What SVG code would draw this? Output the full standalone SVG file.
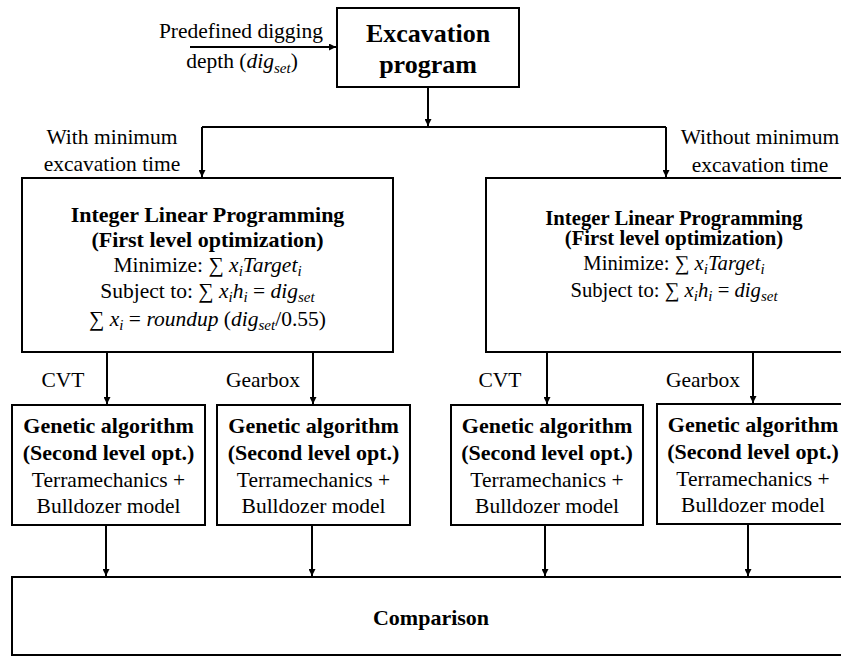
<svg xmlns="http://www.w3.org/2000/svg" width="841" height="656" viewBox="0 0 841 656">
<defs>
<marker id="ah" viewBox="0 0 8 8" refX="8" refY="4" markerWidth="3.5" markerHeight="3.5" markerUnits="strokeWidth" orient="auto">
<path d="M0,0 L8,4 L0,8 Z" fill="#000"/>
</marker>
</defs>

<g id="connectors" fill="none" stroke="#000" stroke-width="2">
<path d="M190,47 H336" marker-end="url(#ah)"/>
<path d="M428,87 V126" marker-end="url(#ah)"/>
<path d="M202,127 H666"/>
<path d="M202,127 V177" marker-end="url(#ah)"/>
<path d="M666,127 V177" marker-end="url(#ah)"/>
<path d="M107,352 V404" marker-end="url(#ah)"/>
<path d="M313,352 V404" marker-end="url(#ah)"/>
<path d="M547,352 V404" marker-end="url(#ah)"/>
<path d="M753,352 V403" marker-end="url(#ah)"/>
<path d="M106,525 V576" marker-end="url(#ah)"/>
<path d="M312,525 V576" marker-end="url(#ah)"/>
<path d="M545,525 V576" marker-end="url(#ah)"/>
<path d="M748,524 V576" marker-end="url(#ah)"/>
</g>

<g id="labels">
<text x="241" y="38" font-family="Liberation Serif" font-size="21.5" text-anchor="middle">Predefined digging</text>
<text x="242" y="68" font-family="Liberation Serif" font-size="21.5" text-anchor="middle">depth (<tspan font-style="italic">dig</tspan><tspan font-size="15" font-style="italic" dy="5">set</tspan><tspan dy="-5">)</tspan></text>
<text x="112" y="144" font-family="Liberation Serif" font-size="21.5" text-anchor="middle">With minimum</text>
<text x="112" y="171" font-family="Liberation Serif" font-size="21.5" text-anchor="middle">excavation time</text>
<text x="760" y="144" font-family="Liberation Serif" font-size="21.5" text-anchor="middle">Without minimum</text>
<text x="760" y="172" font-family="Liberation Serif" font-size="21.5" text-anchor="middle">excavation time</text>
<text x="63" y="387" font-family="Liberation Serif" font-size="21.5" text-anchor="middle">CVT</text>
<text x="263" y="387" font-family="Liberation Serif" font-size="21.5" text-anchor="middle">Gearbox</text>
<text x="500" y="387" font-family="Liberation Serif" font-size="21.5" text-anchor="middle">CVT</text>
<text x="703" y="387" font-family="Liberation Serif" font-size="21.5" text-anchor="middle">Gearbox</text>
</g>

<g id="excavation">
<rect x="337" y="8" width="182" height="79" fill="#fff" stroke="#000" stroke-width="2"/>
<text x="428" y="42" font-family="Liberation Serif" font-weight="bold" font-size="26" text-anchor="middle">Excavation</text>
<text x="428" y="73" font-family="Liberation Serif" font-weight="bold" font-size="26" text-anchor="middle">program</text>
</g>

<g id="ilp-left">
<rect x="22" y="178" width="371" height="174" fill="#fff" stroke="#000" stroke-width="2"/>
<text x="207.5" y="222" font-family="Liberation Serif" font-weight="bold" font-size="22" text-anchor="middle">Integer Linear Programming</text>
<text x="207.5" y="247" font-family="Liberation Serif" font-weight="bold" font-size="22" text-anchor="middle">(First level optimization)</text>
<text x="207.5" y="272" font-family="Liberation Serif" font-size="21.5" text-anchor="middle">Minimize: ∑<tspan font-style="italic"> x</tspan><tspan font-size="15" font-style="italic" dy="4">i</tspan><tspan font-style="italic" dy="-4">Target</tspan><tspan font-size="15" font-style="italic" dy="4">i</tspan></text>
<text x="207.5" y="298" font-family="Liberation Serif" font-size="21.5" text-anchor="middle">Subject to: ∑<tspan font-style="italic"> x</tspan><tspan font-size="15" font-style="italic" dy="4">i</tspan><tspan font-style="italic" dy="-4">h</tspan><tspan font-size="15" font-style="italic" dy="4">i</tspan><tspan dy="-4"> = </tspan><tspan font-style="italic">dig</tspan><tspan font-size="15" font-style="italic" dy="4">set</tspan></text>
<text x="207.5" y="326" font-family="Liberation Serif" font-size="21.5" text-anchor="middle">∑<tspan font-style="italic"> x</tspan><tspan font-size="15" font-style="italic" dy="4">i</tspan><tspan dy="-4"> = </tspan><tspan font-style="italic">roundup</tspan><tspan> (</tspan><tspan font-style="italic">dig</tspan><tspan font-size="15" font-style="italic" dy="4">set</tspan><tspan dy="-4">/0.55)</tspan></text>
</g>

<g id="ilp-right">
<rect x="486" y="178" width="380" height="174" fill="#fff" stroke="#000" stroke-width="2"/>
<text x="674" y="225" font-family="Liberation Serif" font-weight="bold" font-size="20.7" text-anchor="middle">Integer Linear Programming</text>
<text x="674" y="245" font-family="Liberation Serif" font-weight="bold" font-size="20.7" text-anchor="middle">(First level optimization)</text>
<text x="674" y="270" font-family="Liberation Serif" font-size="20.7" text-anchor="middle">Minimize: ∑<tspan font-style="italic"> x</tspan><tspan font-size="15" font-style="italic" dy="4">i</tspan><tspan font-style="italic" dy="-4">Target</tspan><tspan font-size="15" font-style="italic" dy="4">i</tspan></text>
<text x="674" y="297" font-family="Liberation Serif" font-size="20.7" text-anchor="middle">Subject to: ∑<tspan font-style="italic"> x</tspan><tspan font-size="15" font-style="italic" dy="4">i</tspan><tspan font-style="italic" dy="-4">h</tspan><tspan font-size="15" font-style="italic" dy="4">i</tspan><tspan dy="-4"> = </tspan><tspan font-style="italic">dig</tspan><tspan font-size="15" font-style="italic" dy="4">set</tspan></text>
</g>

<g id="ga1">
<rect x="12" y="405" width="193" height="120" fill="#fff" stroke="#000" stroke-width="2"/>
<text x="108.5" y="433" font-family="Liberation Serif" font-weight="bold" font-size="22" text-anchor="middle">Genetic algorithm</text>
<text x="108.5" y="460" font-family="Liberation Serif" font-weight="bold" font-size="22" text-anchor="middle">(Second level opt.)</text>
<text x="108.5" y="487" font-family="Liberation Serif" font-size="21.5" text-anchor="middle">Terramechanics +</text>
<text x="108.5" y="513" font-family="Liberation Serif" font-size="21.5" text-anchor="middle">Bulldozer model</text>
</g>

<g id="ga2">
<rect x="217" y="405" width="193" height="120" fill="#fff" stroke="#000" stroke-width="2"/>
<text x="313.5" y="433" font-family="Liberation Serif" font-weight="bold" font-size="22" text-anchor="middle">Genetic algorithm</text>
<text x="313.5" y="460" font-family="Liberation Serif" font-weight="bold" font-size="22" text-anchor="middle">(Second level opt.)</text>
<text x="313.5" y="487" font-family="Liberation Serif" font-size="21.5" text-anchor="middle">Terramechanics +</text>
<text x="313.5" y="513" font-family="Liberation Serif" font-size="21.5" text-anchor="middle">Bulldozer model</text>
</g>

<g id="ga3">
<rect x="451" y="405" width="192" height="120" fill="#fff" stroke="#000" stroke-width="2"/>
<text x="547" y="433" font-family="Liberation Serif" font-weight="bold" font-size="22" text-anchor="middle">Genetic algorithm</text>
<text x="547" y="460" font-family="Liberation Serif" font-weight="bold" font-size="22" text-anchor="middle">(Second level opt.)</text>
<text x="547" y="487" font-family="Liberation Serif" font-size="21.5" text-anchor="middle">Terramechanics +</text>
<text x="547" y="513" font-family="Liberation Serif" font-size="21.5" text-anchor="middle">Bulldozer model</text>
</g>

<g id="ga4">
<rect x="657" y="404" width="192" height="120" fill="#fff" stroke="#000" stroke-width="2"/>
<text x="753" y="432" font-family="Liberation Serif" font-weight="bold" font-size="22" text-anchor="middle">Genetic algorithm</text>
<text x="753" y="459" font-family="Liberation Serif" font-weight="bold" font-size="22" text-anchor="middle">(Second level opt.)</text>
<text x="753" y="486" font-family="Liberation Serif" font-size="21.5" text-anchor="middle">Terramechanics +</text>
<text x="753" y="512" font-family="Liberation Serif" font-size="21.5" text-anchor="middle">Bulldozer model</text>
</g>

<g id="comparison">
<rect x="12" y="577" width="850" height="78" fill="#fff" stroke="#000" stroke-width="2"/>
<text x="431" y="625" font-family="Liberation Serif" font-weight="bold" font-size="22" text-anchor="middle">Comparison</text>
</g>
</svg>
